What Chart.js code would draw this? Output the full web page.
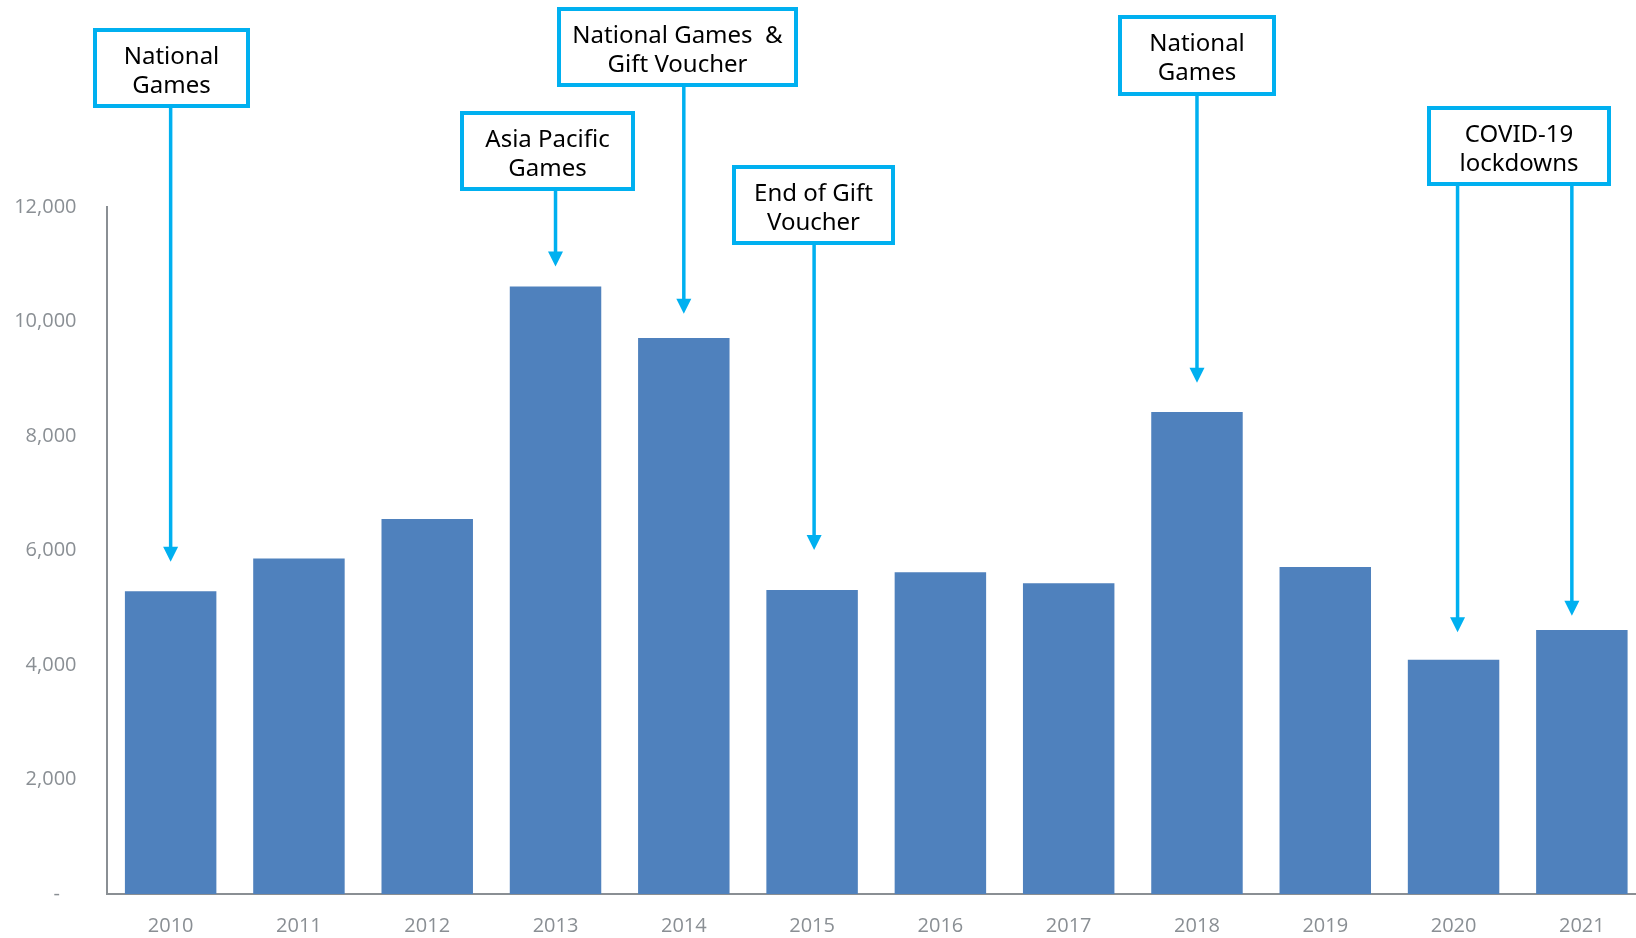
<!DOCTYPE html>
<html>
<head>
<meta charset="utf-8">
<script src="https://cdn.jsdelivr.net/npm/chart.js@4"></script>
<style>
  html, body { margin: 0; padding: 0; background: #fff; overflow: hidden; }
  #wrap { width: 1646px; height: 938px; }
</style>
</head>
<body>
<div id="wrap"><canvas id="grafico"></canvas></div>
<script>
const anos = ['2010', '2011', '2012', '2013', '2014', '2015', '2016', '2017', '2018', '2019', '2020', '2021'];
const valores = [5290, 5860, 6550, 10610, 9710, 5310, 5620, 5430, 8420, 5710, 4090, 4610];
const ticksY = [0, 2000, 4000, 6000, 8000, 10000, 12000];

// notes above the bars: text, which years the arrows point at, value where each arrow tip ends
const notaTextos = [
    ['National', 'Games'],
    ['Asia Pacific', 'Games'],
    ['National Games  &', 'Gift Voucher'],
    ['End of Gift', 'Voucher'],
    ['National', 'Games'],
    ['COVID-19', 'lockdowns']
];
const notaAnos = [['2010'], ['2013'], ['2014'], ['2015'], ['2018'], ['2020', '2021']];
const notaPontas = [[5805], [10960], [10135], [6010], [8930], [4570, 4860]];

// box placement (x, y, w, h in px) and small sideways shift of arrows
const caixas = [[93, 28, 157, 80], [460, 111, 175, 80], [557, 7, 241, 80], [732, 165, 163, 80], [1118, 15, 158, 81], [1427, 106, 184, 80]];
const setaDx = [[0], [0], [0], [2], [0], [4, -10]];

const azul = '#00b0f0';
const cinza = '#8a8f94';

const notasPlugin = {
    id: 'notas',
    afterDatasetsDraw(chart) {
        const ctx = chart.ctx;
        const sx = chart.scales.x;
        const sy = chart.scales.y;
        ctx.save();
        notaTextos.forEach((linhas, i) => {
            const [bx, by, bw, bh] = caixas[i];
            ctx.strokeStyle = azul;
            ctx.lineWidth = 4;
            ctx.strokeRect(bx + 2, by + 2, bw - 4, bh - 4);

            ctx.fillStyle = '#000';
            ctx.font = '24px "Noto Sans"';
            ctx.textAlign = 'center';
            ctx.textBaseline = 'alphabetic';
            linhas.forEach((t, j) => ctx.fillText(t, bx + bw / 2, by + 36 + j * 28.5));

            ctx.fillStyle = azul;
            notaAnos[i].forEach((ano, k) => {
                const ax = sx.getPixelForValue(anos.indexOf(ano)) + setaDx[i][k];
                const ponta = sy.getPixelForValue(notaPontas[i][k]);
                ctx.lineWidth = 3.5;
                ctx.beginPath();
                ctx.moveTo(ax, by + bh - 2);
                ctx.lineTo(ax, ponta - 12);
                ctx.stroke();
                ctx.beginPath();
                ctx.moveTo(ax - 7.5, ponta - 15);
                ctx.lineTo(ax + 7.5, ponta - 15);
                ctx.lineTo(ax, ponta);
                ctx.closePath();
                ctx.fill();
            });
        });
        ctx.restore();
    }
};

new Chart(document.getElementById('grafico'), {
    type: 'bar',
    data: {
        labels: anos,
        datasets: [{
            data: valores,
            backgroundColor: '#4f81bd',
            barPercentage: 0.713,
            categoryPercentage: 1
        }]
    },
    options: {
        responsive: true,
        maintainAspectRatio: false,
        animation: false,
        layout: { padding: { top: 207, left: 13, right: 0, bottom: 0 } },
        plugins: { legend: { display: false }, tooltip: { enabled: false } },
        scales: {
            x: {
                grid: { display: false, drawTicks: false },
                border: { color: cinza, width: 2 },
                ticks: { color: cinza, font: { family: 'Open Sans', size: 20 }, padding: 20 },
                afterFit(s) { s.height = 44; }
            },
            y: {
                min: 0,
                max: 12000,
                afterBuildTicks(s) { s.ticks = ticksY.map(v => ({ value: v })); },
                grid: { display: false, drawTicks: false },
                border: { color: cinza, width: 2 },
                ticks: {
                    color: cinza,
                    font: { family: 'Open Sans', size: 20 },
                    padding: 30,
                    callback: v => v === 0 ? '-\u2007 ' : v.toLocaleString('en-US')
                },
                afterFit(s) { s.width = 93.5; }
            }
        }
    },
    plugins: [notasPlugin]
});
</script>
</body>
</html>
